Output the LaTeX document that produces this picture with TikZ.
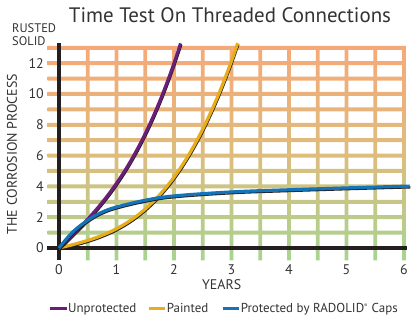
\documentclass[tikz,border=0pt]{standalone}
\usepackage{fontspec}
\setmainfont{PT Sans}
\usetikzlibrary{positioning}
\definecolor{gridtop}{RGB}{247,168,120}
\definecolor{gridmid}{RGB}{222,188,125}
\definecolor{gridbot}{RGB}{166,212,146}
\definecolor{unprot}{RGB}{107,30,120}
\definecolor{painted}{RGB}{232,174,26}
\definecolor{radolid}{RGB}{20,115,185}
\definecolor{axisblack}{RGB}{35,31,32}
\definecolor{textgray}{RGB}{51,51,51}
\begin{document}
\begin{tikzpicture}
            [x = 57.5bp, y = 15.4bp,
             ticklabel/.style = {font=\fontsize{14}{14}\selectfont, text=textgray, inner sep = 0pt},
             smalllabel/.style = {font=\fontsize{12.5}{12.5}\selectfont, text=textgray, inner sep = 0pt},
             legendtext/.style = {font=\fontsize{13}{13}\selectfont, text=textgray, inner sep = 0pt, anchor=base west},
             axisline/.style = {line width = 4bp, axisblack},
             curve/.style = {line width = 3.2bp, preaction={draw=axisblack, line width = 2.4bp,
                             transform canvas={xshift=0.7bp, yshift=-1.2bp}}},
             swatch/.style = {line width = 3.2bp}]
            \useasboundingbox (-59bp,-72bp) rectangle (352bp,248bp);
            % grid with colour running from green to orange
            \begin{scope}
                \path[clip] foreach \y in {1,...,13} {([yshift=-2bp]-0.2,\y) rectangle ([yshift=2bp]6.03,\y)}
                            foreach \x in {0.5,1,...,6} {([xshift=-1.8bp]\x,-0.8) rectangle ([xshift=1.8bp]\x,13.13)};
                \shade[top color=gridtop, bottom color=gridbot, middle color=gridmid] (-0.3,-0.9) rectangle (6.1,13.3);
            \end{scope}
            \coordinate (o) at (0,0);
            \coordinate (ybot) at (0,-0.78);
            \coordinate (ytop) at (0,13.3);
            \coordinate (xleft) at (-0.21,0);
            \coordinate (xright) at (6.05,0);
            \draw[axisline] (ybot) -- (ytop);
            \draw[axisline] (xleft) -- (xright);
            % ticks
            \foreach \v in {0,2,...,12}
                \node[ticklabel, anchor=east] (y\v) at ([xshift=-15bp]0,\v) {\v};
            \foreach \v in {0,...,6}
                \node[ticklabel] (x\v) at ([yshift=-22bp]\v,0) {\v};
            % curves
            \draw[curve, painted] plot[domain=0:3.108, samples=60, smooth] (\x, {0.9*\x + 0.35*\x^3});
            \draw[curve, unprot] plot[domain=0:2.115, samples=60, smooth] (\x, {3.6*\x + 0.6*\x^3});
            \draw[curve, radolid] plot[smooth, tension=0.6] coordinates
                {(0,0) (0.25,1.08) (0.54,1.9) (0.75,2.33) (1,2.66) (1.5,3.1) (2,3.38) (3,3.64) (4,3.78) (5,3.9) (6.1,4.02)};
            % labels
            \node[font=\fontsize{21}{21}\selectfont, text=textgray] (title) at (171bp,233bp) {Time Test On Threaded Connections};
            \node[smalllabel, anchor=base west] (rusted) at (-47bp,215.3bp) {RUSTED};
            \node[smalllabel, anchor=base west] (solid) at (-47bp,202bp) {SOLID};
            \node[ticklabel, rotate=90] (ylabel) at (-47bp,94bp) {THE CORROSION PROCESS};
            \node[ticklabel] (years) at (2.83,-37bp) {YEARS};
            % legend
            \node[legendtext] (lu) at (9bp,-64bp) {Unprotected};
            \node[legendtext, right=30bp of lu.base east, anchor=base west] (lp) {Painted};
            \node[legendtext, right=32bp of lp.base east, anchor=base west] (lr) {Protected by RADOLID\textsuperscript{\tiny ®} Caps};
            \draw[swatch, unprot] ([xshift=-18bp,yshift=3.5bp]lu.base west) -- ([xshift=-1.5bp,yshift=3.5bp]lu.base west);
            \draw[swatch, painted] ([xshift=-18bp,yshift=3.5bp]lp.base west) -- ([xshift=-1.5bp,yshift=3.5bp]lp.base west);
            \draw[swatch, radolid] ([xshift=-18bp,yshift=3.5bp]lr.base west) -- ([xshift=-1.5bp,yshift=3.5bp]lr.base west);
\end{tikzpicture}
\end{document}
